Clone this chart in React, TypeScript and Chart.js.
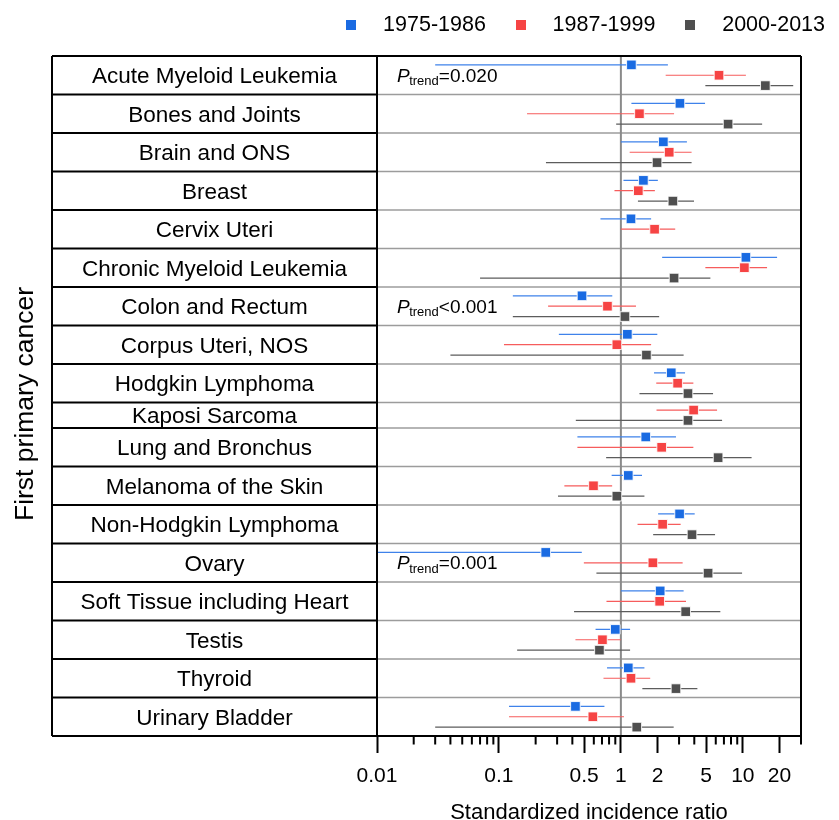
import React, { useEffect, useRef } from 'react';
import { Chart, registerables } from 'chart.js';

Chart.register(...registerables);

const FONT = "'Liberation Sans', Arial, Helvetica, sans-serif";

// ---------------- data ----------------
const CATEGORIES = [
  'Acute Myeloid Leukemia',
  'Bones and Joints',
  'Brain and ONS',
  'Breast',
  'Cervix Uteri',
  'Chronic Myeloid Leukemia',
  'Colon and Rectum',
  'Corpus Uteri, NOS',
  'Hodgkin Lymphoma',
  'Kaposi Sarcoma',
  'Lung and Bronchus',
  'Melanoma of the Skin',
  'Non-Hodgkin Lymphoma',
  'Ovary',
  'Soft Tissue including Heart',
  'Testis',
  'Thyroid',
  'Urinary Bladder',
];
// number of series slots reserved in each row
const ROW_SLOTS = [3, 3, 3, 3, 3, 3, 3, 3, 3, 2, 3, 3, 3, 3, 3, 3, 3, 3];

const SERIES = ['1975-1986', '1987-1999', '2000-2013'];

const SIR_1975 = [1.22, 3.05, 2.23, 1.53, 1.21, 10.6, 0.48, 1.13, 2.59, null, 1.6, 1.15, 3.03, 0.242, 2.1, 0.9, 1.15, 0.424];
const LOW_1975 = [0.03, 1.22, 1.0, 1.05, 0.68, 2.18, 0.13, 0.31, 1.87, null, 0.44, 0.84, 2.02, 0.005, 1.0, 0.62, 0.77, 0.121];
const HIGH_1975 = [2.43, 4.9, 3.48, 2.01, 1.77, 19.1, 0.85, 1.99, 3.36, null, 2.83, 1.49, 4.03, 0.478, 3.27, 1.19, 1.56, 0.733];

const SIR_1987 = [6.38, 1.42, 2.49, 1.39, 1.89, 10.3, 0.776, 0.927, 2.92, 3.95, 2.16, 0.596, 2.2, 1.83, 2.08, 0.706, 1.21, 0.589];
const LOW_1987 = [2.33, 0.17, 1.18, 0.886, 1.0, 4.93, 0.253, 0.11, 1.95, 1.96, 0.44, 0.344, 1.37, 0.497, 0.762, 0.424, 0.72, 0.121];
const HIGH_1987 = [10.6, 2.73, 3.8, 1.9, 2.79, 15.8, 1.33, 1.77, 3.93, 6.15, 3.93, 0.848, 3.09, 3.21, 3.42, 1.0, 1.74, 1.06];

const SIR_2000 = [15.3, 7.57, 1.98, 2.67, null, 2.73, 1.08, 1.62, 3.55, 3.55, 6.27, 0.927, 3.83, 5.19, 3.4, 0.667, 2.83, 1.35];
const LOW_2000 = [4.93, 0.915, 0.243, 1.38, null, 0.07, 0.13, 0.04, 1.42, 0.427, 0.757, 0.305, 1.84, 0.63, 0.413, 0.141, 1.5, 0.03];
const HIGH_2000 = [25.9, 14.4, 3.8, 3.98, null, 5.42, 2.06, 3.27, 5.7, 6.76, 11.8, 1.56, 5.92, 9.86, 6.54, 1.19, 4.24, 2.71];

const X_TICK_LABELS = [0.01, 0.1, 0.5, 1, 2, 5, 10, 20];
const X_MINOR_TICKS = [0.02, 0.03, 0.04, 0.05, 0.06, 0.07, 0.08, 0.09, 0.2, 0.3, 0.4, 0.6, 0.7, 0.8, 0.9, 3, 4, 6, 7, 8, 9, 30];
const X_MIN = 0.01;
const X_MAX = 30;
const REF_VALUE = 1;

const TREND_ROWS = ['Acute Myeloid Leukemia', 'Colon and Rectum', 'Ovary'];
const TREND_TEXT = ['=0.020', '<0.001', '=0.001'];

const X_TITLE = 'Standardized incidence ratio';
const Y_TITLE = 'First primary cancer';

// ---------------- styles ----------------
const SERIES_COLORS = ['#1a6be2', '#f64444', '#4f4f4f'];
const BAR_COLORS = ['#3f82ea', '#f65c5c', '#5c5c5c'];
const SIR_LIST = [SIR_1975, SIR_1987, SIR_2000];
const LOW_LIST = [LOW_1975, LOW_1987, LOW_2000];
const HIGH_LIST = [HIGH_1975, HIGH_1987, HIGH_2000];

// ---------------- row layout (in y units, one unit per series slot) ----------------
const padFor = (slots: number) => (slots === 3 ? 0.857 : 0.737);
const ROW_TOPS: number[] = [];
let acc = 0;
ROW_SLOTS.forEach((s) => {
  ROW_TOPS.push(acc);
  acc += s - 1 + 2 * padFor(s);
});
const Y_TOTAL = acc;
const ROW_BOUNDS = [...ROW_TOPS, Y_TOTAL];
const rowCenter = (r: number) => ROW_TOPS[r] + (ROW_SLOTS[r] - 1 + 2 * padFor(ROW_SLOTS[r])) / 2;

function slotY(row: number, series: number): number {
  // slot index = position among series present in this row
  let k = 0;
  for (let s = 0; s < series; s++) if (SIR_LIST[s][row] != null) k++;
  return ROW_TOPS[row] + padFor(ROW_SLOTS[row]) + k;
}

function markerData(s: number) {
  const out: { x: number; y: number }[] = [];
  SIR_LIST[s].forEach((v, r) => {
    if (v != null) out.push({ x: v, y: slotY(r, s) });
  });
  return out;
}

function barData(s: number) {
  const out: { x: number; y: number | null }[] = [];
  SIR_LIST[s].forEach((v, r) => {
    if (v == null) return;
    const yy = slotY(r, s);
    out.push({ x: LOW_LIST[s][r] as number, y: yy });
    out.push({ x: HIGH_LIST[s][r] as number, y: yy });
    out.push({ x: HIGH_LIST[s][r] as number, y: null });
  });
  return out;
}

const forestPlugin = {
  id: 'forestDecor',
  beforeDatasetsDraw(chart: any) {
    const { ctx, chartArea: a, scales } = chart;
    const x = scales.x;
    const y = scales.y;
    ctx.save();
    ctx.strokeStyle = '#9c9c9c';
    ctx.lineWidth = 1.5;
    ROW_BOUNDS.slice(1, -1).forEach((b) => {
      const py = y.getPixelForValue(b);
      ctx.beginPath();
      ctx.moveTo(a.left, py);
      ctx.lineTo(a.right, py);
      ctx.stroke();
    });
    const px = x.getPixelForValue(REF_VALUE);
    ctx.strokeStyle = '#8a8a8a';
    ctx.lineWidth = 2;
    ctx.beginPath();
    ctx.moveTo(px, a.top);
    ctx.lineTo(px, a.bottom);
    ctx.stroke();
    ctx.restore();
  },
  afterDraw(chart: any) {
    const { ctx, chartArea: a, scales } = chart;
    const x = scales.x;
    const y = scales.y;
    const panelLeft = 52;
    ctx.save();
    // category labels
    ctx.fillStyle = '#000';
    ctx.font = `22.5px ${FONT}`;
    ctx.textAlign = 'center';
    ctx.textBaseline = 'alphabetic';
    CATEGORIES.forEach((c, r) => {
      const py = y.getPixelForValue(rowCenter(r));
      ctx.fillText(c, (panelLeft + a.left) / 2, py + 22.5 * 0.36);
    });
    // label panel lines
    ctx.strokeStyle = '#000';
    ctx.lineWidth = 2;
    ROW_BOUNDS.forEach((b) => {
      const py = y.getPixelForValue(b);
      ctx.beginPath();
      ctx.moveTo(panelLeft, py);
      ctx.lineTo(a.left, py);
      ctx.stroke();
    });
    // frame
    ctx.beginPath();
    ctx.moveTo(panelLeft, a.top);
    ctx.lineTo(a.right, a.top);
    ctx.moveTo(panelLeft, a.bottom);
    ctx.lineTo(a.right, a.bottom);
    [panelLeft, a.left, a.right].forEach((vx) => {
      ctx.moveTo(vx, a.top);
      ctx.lineTo(vx, a.bottom);
    });
    ctx.stroke();
    // minor ticks
    ctx.beginPath();
    X_MINOR_TICKS.forEach((v) => {
      const px = x.getPixelForValue(v);
      ctx.moveTo(px, a.bottom);
      ctx.lineTo(px, a.bottom + 8.5);
    });
    ctx.stroke();
    // P-trend annotations
    TREND_ROWS.forEach((name, i) => {
      const r = CATEGORIES.indexOf(name);
      const yb = y.getPixelForValue(rowCenter(r)) + 6.6;
      let cx = a.left + 20;
      ctx.textAlign = 'left';
      ctx.font = `italic 19px ${FONT}`;
      ctx.fillText('P', cx, yb);
      cx += ctx.measureText('P').width - 0.5;
      ctx.font = `13px ${FONT}`;
      ctx.fillText('trend', cx, yb + 3.5);
      cx += ctx.measureText('trend').width;
      ctx.font = `19px ${FONT}`;
      ctx.fillText(TREND_TEXT[i], cx, yb);
    });
    // y title
    ctx.translate(33.3, 404);
    ctx.rotate(-Math.PI / 2);
    ctx.textAlign = 'center';
    ctx.font = `26.5px ${FONT}`;
    ctx.fillText(Y_TITLE, 0, 0);
    ctx.restore();
  },
};

export default function App() {
  const ref = useRef<HTMLCanvasElement | null>(null);
  useEffect(() => {
    if (!ref.current) return;
    const icons = SERIES_COLORS.map((c) => {
      const cv = document.createElement('canvas');
      cv.width = 10;
      cv.height = 10;
      const g = cv.getContext('2d')!;
      g.fillStyle = c;
      g.fillRect(0, 0, 10, 10);
      return cv;
    });
    const markerSets = SERIES.map((name, s) => ({
      label: name,
      data: markerData(s),
      showLine: false,
      pointStyle: 'rect',
      pointRadius: 6.8,
      pointBackgroundColor: SERIES_COLORS[s],
      pointBorderColor: 'rgba(255,255,255,0.85)',
      pointBorderWidth: 1,
      order: 0,
    }));
    const barSets = SERIES.map((name, s) => ({
      label: name + ' CI',
      data: barData(s),
      showLine: true,
      spanGaps: false,
      borderColor: BAR_COLORS[s],
      borderWidth: 1.2,
      pointRadius: 0,
      fill: false,
      order: 1,
    }));
    const chart = new Chart(ref.current, {
      type: 'scatter',
      data: { datasets: [...markerSets, ...barSets] as any },
      options: {
        responsive: false,
        maintainAspectRatio: false,
        animation: false,
        events: [],
        layout: { padding: 0 },
        scales: {
          x: {
            type: 'logarithmic',
            position: 'bottom',
            min: X_MIN,
            max: X_MAX,
            afterBuildTicks: (scale: any) => {
              scale.ticks = X_TICK_LABELS.map((v) => ({ value: v }));
            },
            afterFit: (scale: any) => {
              scale.height = 84;
            },
            ticks: {
              autoSkip: false,
              maxRotation: 0,
              padding: 10.5,
              color: '#000',
              font: { family: FONT, size: 21 },
              callback: (v: any) => String(v),
            },
            grid: {
              display: true,
              drawOnChartArea: false,
              drawTicks: true,
              tickLength: 17,
              tickWidth: 2,
              tickColor: '#000',
            },
            border: { display: false },
            title: {
              display: true,
              text: X_TITLE,
              color: '#000',
              font: { family: FONT, size: 22 },
              padding: { top: 0, bottom: -6 },
            },
          },
          xTop: {
            type: 'linear',
            position: 'top',
            display: true,
            ticks: { display: false },
            grid: { display: false },
            border: { display: false },
            afterFit: (scale: any) => {
              scale.height = 10.5;
            },
          },
          y: {
            type: 'linear',
            position: 'left',
            reverse: true,
            min: 0,
            max: Y_TOTAL,
            ticks: { display: false },
            grid: { display: false },
            border: { display: false },
            afterFit: (scale: any) => {
              scale.width = 377;
            },
          },
          yR: {
            type: 'linear',
            position: 'right',
            display: true,
            ticks: { display: false },
            grid: { display: false },
            border: { display: false },
            afterFit: (scale: any) => {
              scale.width = 38;
            },
          },
        },
        plugins: {
          tooltip: { enabled: false },
          legend: {
            display: true,
            position: 'top',
            align: 'end',
            labels: {
              usePointStyle: true,
              pointStyleWidth: 42,
              boxHeight: 10,
              padding: 14,
              color: '#000',
              font: { family: FONT, size: 21.5 },
              generateLabels: () =>
                SERIES.map((name, i) => ({
                  text: name,
                  fillStyle: SERIES_COLORS[i],
                  strokeStyle: SERIES_COLORS[i],
                  lineWidth: 0,
                  pointStyle: icons[i],
                  hidden: false,
                  datasetIndex: i,
                })),
            },
          },
        },
      } as any,
      plugins: [forestPlugin],
    });
    return () => chart.destroy();
  }, []);
  return (
    <div style={{ position: 'absolute', left: 0, top: 0, width: 839, height: 820 }}>
      <canvas ref={ref} width={839} height={820} style={{ display: 'block' }} />
    </div>
  );
}
